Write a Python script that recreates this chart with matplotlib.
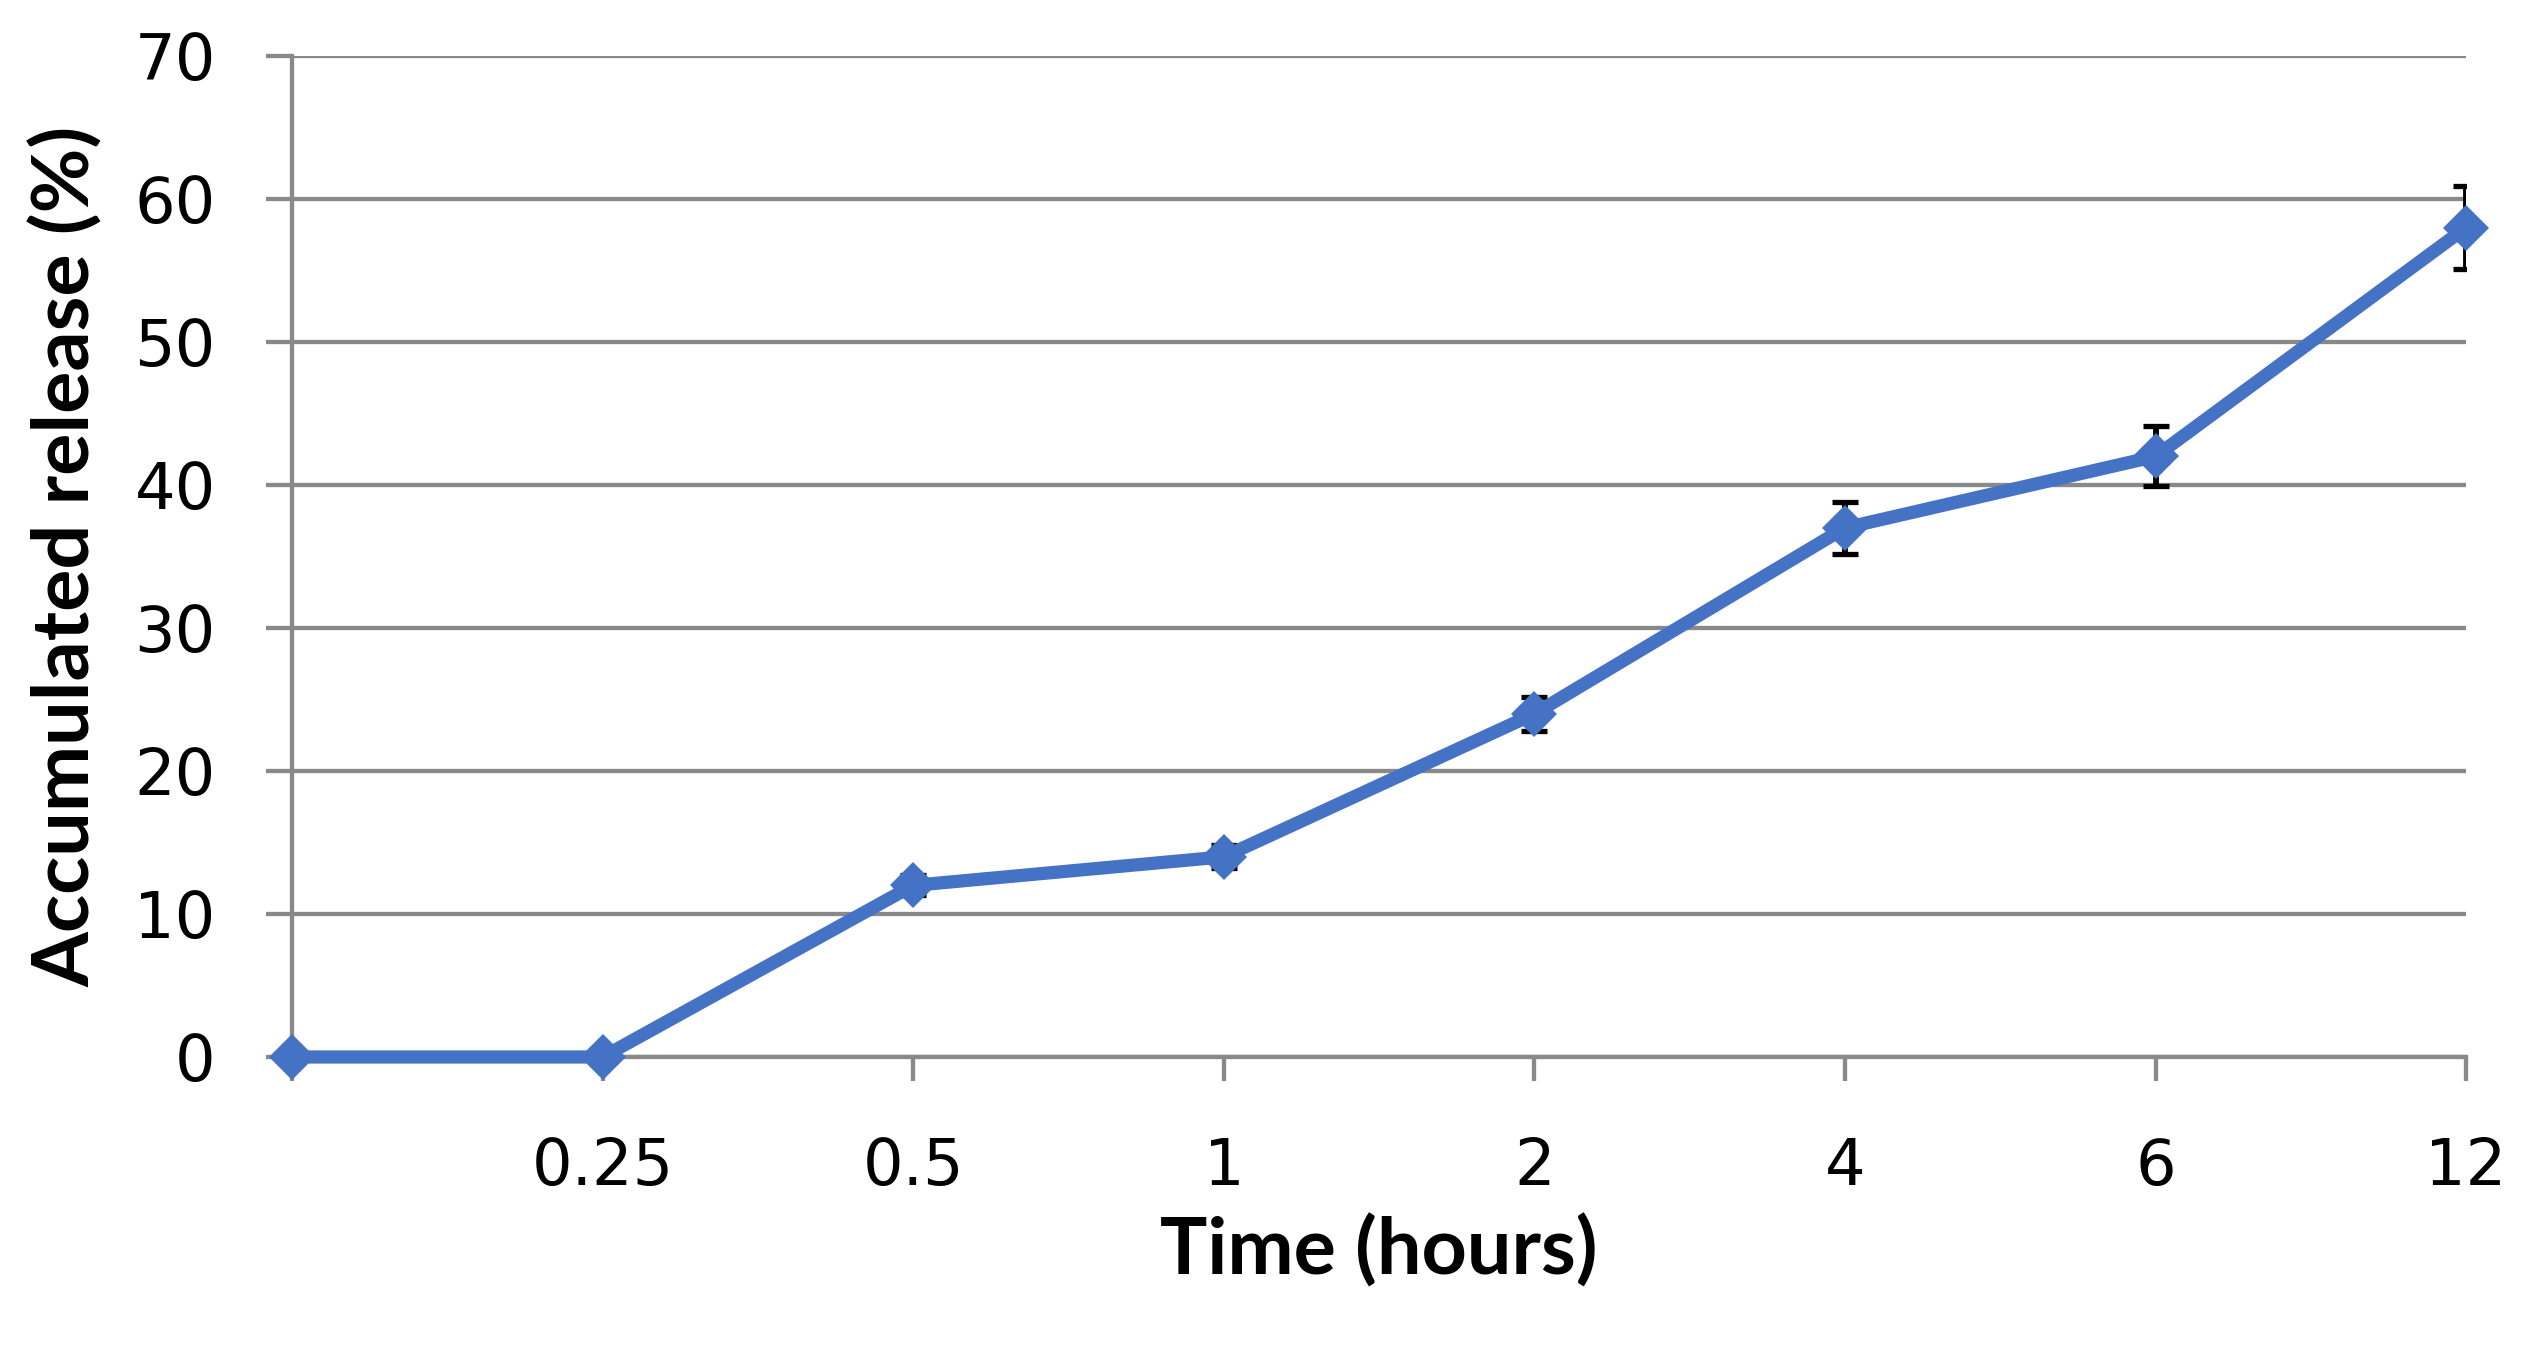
import matplotlib
matplotlib.use("Agg")
import matplotlib.pyplot as plt

# data
time_labels = ["", "0.25", "0.5", "1", "2", "4", "6", "12"]
release = [0, 0, 12, 14, 24, 37, 42, 58]
release_err = [0, 0, 0.7, 0.8, 1.2, 1.8, 2.1, 2.9]

blue = "#4472C4"
grey = "#898989"

fig = plt.figure(figsize=(25.27, 13.52), dpi=100)
ax = fig.add_axes([0.1156, 0.2182, 0.9759 - 0.1156, 0.9586 - 0.2182])

x = list(range(len(time_labels)))

ax.errorbar(x, release, yerr=release_err, fmt="none", ecolor="black",
            elinewidth=4.2, capsize=9.5, capthick=3.8, zorder=3)
ax.plot(x, release, color=blue, linewidth=9.5, marker="D", markersize=23,
        markeredgewidth=0, zorder=4, clip_on=False)

ax.set_xlim(0, len(time_labels) - 1)
ax.set_ylim(0, 70)
ax.set_yticks(range(0, 71, 10))
ax.set_xticks(x)
ax.set_xticklabels(time_labels)

ax.grid(axis="y", color=grey, linewidth=3.1)
ax.set_axisbelow(True)
for side in ["top", "right"]:
    ax.spines[side].set_visible(False)
ax.spines["left"].set_color(grey)
ax.spines["left"].set_linewidth(3.1)
ax.spines["bottom"].set_color(grey)
ax.spines["bottom"].set_linewidth(3.1)

ax.tick_params(axis="x", direction="out", length=17, width=3.1, color=grey,
               pad=40, labelsize=46)
ax.tick_params(axis="y", direction="out", length=19, width=3.1, color=grey,
               pad=36, labelsize=46)

ax.set_xlabel("Time (hours)", fontname="Lato", fontweight="bold", fontsize=57,
              labelpad=12)
ax.set_ylabel("Accumulated release (%)", fontname="Lato", fontweight="bold",
              fontsize=57, labelpad=22)

fig.savefig("out.png", dpi=100)
